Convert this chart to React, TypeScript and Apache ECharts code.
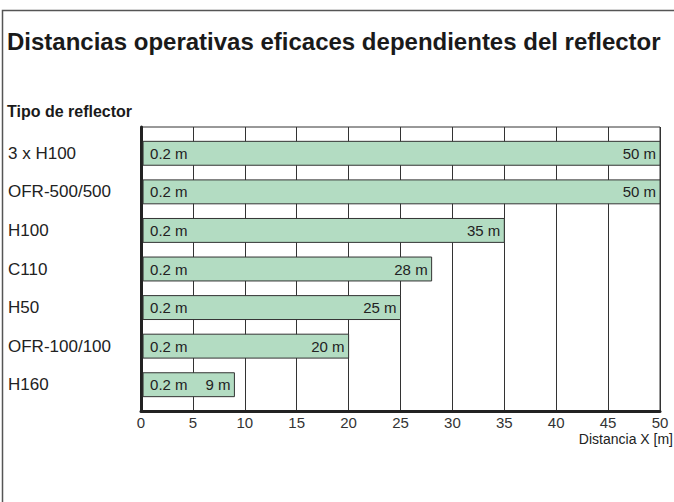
import React, { useEffect, useRef } from "react";
import * as echarts from "echarts";

const categories = ["3 x H100", "OFR-500/500", "H100", "C110", "H50", "OFR-100/100", "H160"];
const startValues = [0.2, 0.2, 0.2, 0.2, 0.2, 0.2, 0.2];
const endValues = [50, 50, 35, 28, 25, 20, 9];
const xTicks = [0, 5, 10, 15, 20, 25, 30, 35, 40, 45, 50];

const FONT = "Arial, 'Liberation Sans', Helvetica, sans-serif";

export default function App() {
  const ref = useRef<HTMLDivElement>(null);
  useEffect(() => {
    document.body.style.margin = "0";
    const chart = echarts.init(ref.current!, null, { renderer: "svg" });
    const data = categories.map((_, i) => [i, startValues[i], endValues[i]]);
    chart.setOption({
      animation: false,
      backgroundColor: "#ffffff",
      textStyle: { fontFamily: FONT },
      graphic: [
        {
          type: "rect",
          shape: { x: 2.5, y: 10.5, width: 800, height: 700 },
          style: { fill: "none", stroke: "#555", lineWidth: 1.5 },
          silent: true,
        },
        {
          type: "text",
          left: 7,
          top: 29,
          style: { text: "Distancias operativas eficaces dependientes del reflector", fontSize: 24, fontWeight: "bold", fill: "#1a1a1a", fontFamily: FONT },
        },
        {
          type: "text",
          left: 7,
          top: 103,
          style: { text: "Tipo de reflector", fontSize: 16, fontWeight: "bold", fill: "#1a1a1a", fontFamily: FONT },
        },
        {
          type: "text",
          right: 1,
          top: 432,
          style: { text: "Distancia X [m]", fontSize: 14, fill: "#222", fontFamily: FONT },
        },
      ],
      grid: [
        { left: 141, right: 14, top: 127, bottom: 91, show: true, borderColor: "#333", borderWidth: 1, backgroundColor: "transparent" },
        { left: 141, right: 14, top: 134, height: 270 },
      ],
      xAxis: [
        {
          type: "value",
          gridIndex: 0,
          min: 0,
          max: 50,
          interval: 5,
          axisLine: { show: true, lineStyle: { color: "#222", width: 3 } },
          axisTick: { show: false },
          axisLabel: { fontSize: 15, color: "#333", margin: 4, fontFamily: FONT, formatter: (v: number) => (xTicks.includes(v) ? String(v) : "") },
          splitLine: { show: true, lineStyle: { color: "#333", width: 1 } },
        },
        {
          type: "value",
          gridIndex: 1,
          min: 0,
          max: 50,
          interval: 5,
          show: false,
          splitLine: { show: false },
        },
      ],
      yAxis: [
        {
          type: "value",
          gridIndex: 0,
          min: 0,
          max: 1,
          axisLine: { show: true, onZero: false, lineStyle: { color: "#222", width: 3 } },
          axisTick: { show: false },
          axisLabel: { show: false },
          splitLine: { show: false },
        },
        {
          type: "category",
          gridIndex: 1,
          data: categories,
          inverse: true,
          axisLine: { show: false },
          axisTick: { show: false },
          axisLabel: { fontSize: 17, color: "#222", align: "left", margin: 133, fontFamily: FONT },
          splitLine: { show: false },
        },
      ],
      series: [
        {
          type: "custom",
          xAxisIndex: 1,
          yAxisIndex: 1,
          encode: { x: [1, 2], y: 0 },
          data,
          renderItem: (params: any, api: any) => {
            const idx = api.value(0);
            const s = api.value(1);
            const e = api.value(2);
            const p0 = api.coord([s, idx]);
            const p1 = api.coord([e, idx]);
            const h = api.size([0, 1])[1] * 0.62;
            return {
              type: "group",
              children: [
                {
                  type: "rect",
                  shape: { x: p0[0], y: p0[1] - h / 2, width: p1[0] - p0[0], height: h },
                  style: { fill: "#b3dcc2", stroke: "#333", lineWidth: 1 },
                },
                {
                  type: "text",
                  x: p0[0] + 7,
                  y: p0[1],
                  style: { text: s + " m", fill: "#222", fontSize: 15, fontFamily: FONT, align: "left", verticalAlign: "middle" },
                },
                {
                  type: "text",
                  x: p1[0] - 4,
                  y: p1[1],
                  style: { text: e + " m", fill: "#222", fontSize: 15, fontFamily: FONT, align: "right", verticalAlign: "middle" },
                },
              ],
            };
          },
        },
      ],
    });
    return () => chart.dispose();
  }, []);
  return <div ref={ref} style={{ position: "absolute", left: 0, top: 0, width: 674, height: 502 }} />;
}
